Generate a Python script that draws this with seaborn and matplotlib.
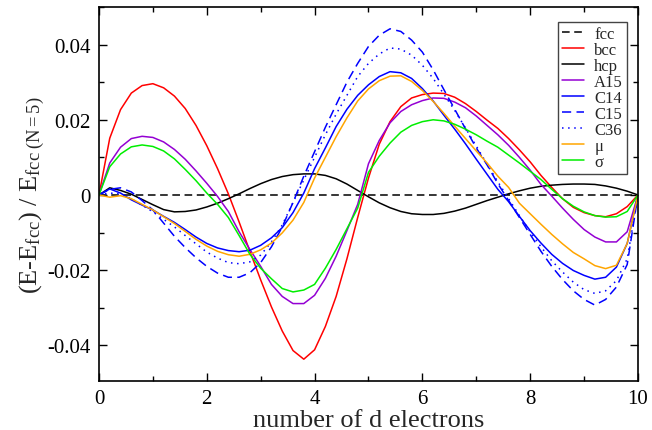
import numpy as np
import pandas as pd
import matplotlib
matplotlib.use("Agg")
import matplotlib.pyplot as plt
from matplotlib.ticker import MultipleLocator, FixedLocator, FixedFormatter
import seaborn as sns

# ---------------- data ----------------
x_d = [0.0, 0.2, 0.4, 0.6, 0.8, 1.0, 1.2, 1.4, 1.6, 1.8, 2.0, 2.2, 2.4, 2.6, 2.8,
       3.0, 3.2, 3.4, 3.6, 3.8, 4.0, 4.2, 4.4, 4.6, 4.8, 5.0, 5.2, 5.4, 5.6, 5.8,
       6.0, 6.2, 6.4, 6.6, 6.8, 7.0, 7.2, 7.4, 7.6, 7.8, 8.0, 8.2, 8.4, 8.6, 8.8,
       9.0, 9.2, 9.4, 9.6, 9.8, 10.0]

fcc_x = [0.0, 10.0]
fcc = [0.0, 0.0]

bcc = [0.0, 0.0151, 0.0227, 0.0271, 0.0291, 0.0296, 0.0285, 0.0263, 0.0230, 0.0185,
       0.0131, 0.0070, 0.0003, -0.0072, -0.0150, -0.0226, -0.0298, -0.0362, -0.0414, -0.0437,
       -0.0412, -0.0350, -0.0270, -0.0170, -0.0060, 0.0045, 0.0135, 0.0195, 0.0235, 0.0258,
       0.0267, 0.0271, 0.0270, 0.0260, 0.0243, 0.0222, 0.0199, 0.0177, 0.0150, 0.0120,
       0.0088, 0.0052, 0.0020, -0.0010, -0.0033, -0.0047, -0.0055, -0.0058, -0.0050, -0.0031, 0.0]

hcp = [0.0, 0.0019, 0.0012, 0.0002, -0.0012, -0.0026, -0.0039, -0.0045, -0.0044, -0.0040,
       -0.0032, -0.0022, -0.0010, 0.0003, 0.0017, 0.0030, 0.0041, 0.0049, 0.0054, 0.0056,
       0.0056, 0.0052, 0.0043, 0.0029, 0.0012, -0.0005, -0.0021, -0.0034, -0.0044, -0.0050,
       -0.0052, -0.0052, -0.0049, -0.0043, -0.0035, -0.0025, -0.0015, -0.0006, 0.0003, 0.0011,
       0.0018, 0.0023, 0.0026, 0.0028, 0.0029, 0.0029, 0.0028, 0.0024, 0.0018, 0.0010, 0.0]

a15 = [0.0, 0.0085, 0.0127, 0.0150, 0.0156, 0.0153, 0.0141, 0.0121, 0.0095, 0.0064,
       0.0031, -0.0004, -0.0044, -0.0098, -0.0145, -0.0190, -0.0238, -0.0270, -0.0289, -0.0289,
       -0.0267, -0.0222, -0.0163, -0.0095, -0.0025, 0.0083, 0.0145, 0.0192, 0.0222, 0.0240,
       0.0251, 0.0258, 0.0257, 0.0247, 0.0232, 0.0210, 0.0185, 0.0160, 0.0132, 0.0100,
       0.0066, 0.0028, -0.0003, -0.0035, -0.0065, -0.0092, -0.0112, -0.0125, -0.0125, -0.0098, 0.0]

c14 = [0.0, 0.0016, 0.0005, -0.0013, -0.0027, -0.0040, -0.0057, -0.0073, -0.0092, -0.0112,
       -0.0129, -0.0141, -0.0148, -0.0151, -0.0147, -0.0134, -0.0114, -0.0087, -0.0047, 0.0005,
       0.0070, 0.0125, 0.0182, 0.0228, 0.0265, 0.0293, 0.0315, 0.0328, 0.0325, 0.0310,
       0.0283, 0.0250, 0.0212, 0.0175, 0.0136, 0.0095, 0.0055, 0.0015, -0.0018, -0.0057,
       -0.0095, -0.0128, -0.0158, -0.0182, -0.0201, -0.0214, -0.0224, -0.0219, -0.0192, -0.0129, 0.0]

c15 = [0.0, 0.0015, 0.0019, 0.0008, -0.0015, -0.0040, -0.0075, -0.0110, -0.0140, -0.0167,
       -0.0190, -0.0208, -0.0219, -0.0219, -0.0207, -0.0180, -0.0138, -0.0085, -0.0020, 0.0050,
       0.0115, 0.0180, 0.0240, 0.0300, 0.0350, 0.0395, 0.0425, 0.0442, 0.0435, 0.0412,
       0.0380, 0.0333, 0.0280, 0.0228, 0.0176, 0.0125, 0.0080, 0.0030, -0.0015, -0.0060,
       -0.0105, -0.0150, -0.0190, -0.0225, -0.0255, -0.0278, -0.0293, -0.0278, -0.0245, -0.0185, 0.0]

c36 = [0.0, 0.0005, 0.0003, -0.0010, -0.0027, -0.0045, -0.0065, -0.0085, -0.0108, -0.0130,
       -0.0152, -0.0168, -0.0180, -0.0183, -0.0178, -0.0160, -0.0125, -0.0080, -0.0020, 0.0040,
       0.0100, 0.0160, 0.0215, 0.0265, 0.0315, 0.0350, 0.0375, 0.0391, 0.0388, 0.0372,
       0.0345, 0.0310, 0.0268, 0.0225, 0.0178, 0.0130, 0.0082, 0.0035, -0.0010, -0.0055,
       -0.0098, -0.0138, -0.0175, -0.0205, -0.0232, -0.0252, -0.0262, -0.0255, -0.0228, -0.0170, 0.0]

mu = [0.0, -0.0006, -0.0002, -0.0010, -0.0025, -0.0040, -0.0058, -0.0076, -0.0097, -0.0118,
      -0.0136, -0.0150, -0.0159, -0.0163, -0.0158, -0.0146, -0.0128, -0.0101, -0.0067, -0.0020,
      0.0045, 0.0100, 0.0155, 0.0205, 0.0250, 0.0282, 0.0304, 0.0316, 0.0317, 0.0302,
      0.0278, 0.0249, 0.0217, 0.0183, 0.0150, 0.0117, 0.0085, 0.0050, 0.0020, -0.0022,
      -0.0050, -0.0078, -0.0105, -0.0130, -0.0153, -0.0170, -0.0188, -0.0196, -0.0187, -0.0129, 0.0]

sigma = [0.0, 0.0075, 0.0109, 0.0128, 0.0133, 0.0129, 0.0117, 0.0096, 0.0068, 0.0038,
         0.0005, -0.0025, -0.0060, -0.0108, -0.0158, -0.0195, -0.0223, -0.0249, -0.0258, -0.0253,
         -0.0238, -0.0195, -0.0145, -0.0090, -0.0035, 0.0060, 0.0103, 0.0138, 0.0167, 0.0185,
         0.0195, 0.0200, 0.0197, 0.0188, 0.0175, 0.0160, 0.0143, 0.0127, 0.0106, 0.0085,
         0.0063, 0.0041, 0.0015, -0.0010, -0.0030, -0.0045, -0.0055, -0.0059, -0.0058, -0.0044, 0.0]

labels = ["fcc", "bcc", "hcp", "A15", "C14", "C15", "C36", "\u03bc", "\u03c3"]
colors = ["black", "#ff0000", "black", "#9400d3", "#0000ff", "#0000ff", "#0000ff", "#ffa500", "#00ee00"]
styles = [(0, (5, 3)), "-", "-", "-", "-", (0, (6, 3.5)), (0, (1, 3)), "-", "-"]

x_ticks = [0, 2, 4, 6, 8, 10]
y_ticks = [-0.04, -0.02, 0.0, 0.02, 0.04]
y_tick_labels = ["-0.04", "-0.02", "0", "0.02", "0.04"]

# ---------------- plot ----------------
sns.set_theme(style="ticks")
plt.rcParams["font.family"] = ["Liberation Serif", "DejaVu Serif"]
plt.rcParams["mathtext.fontset"] = "custom"
plt.rcParams["mathtext.rm"] = "Liberation Serif"
plt.rcParams["mathtext.it"] = "Liberation Serif:italic"
plt.rcParams["axes.unicode_minus"] = False

fig = plt.figure(figsize=(6.52, 4.31), dpi=100)
ax = fig.add_axes([0.1518, 0.1137, 0.8267, 0.8677])

series = [fcc, bcc, hcp, a15, c14, c15, c36, mu, sigma]
for lab, col, ls, ys in zip(labels, colors, styles, series):
    xs = fcc_x if lab == "fcc" else x_d
    sns.lineplot(x=xs, y=ys, ax=ax, color=col, linestyle=ls, linewidth=1.1,
                 label=lab, sort=False, estimator=None)

ax.set_xlim(0, 10)
ax.set_ylim(-0.0495, 0.05)
ax.xaxis.set_major_locator(FixedLocator(x_ticks))
ax.xaxis.set_minor_locator(MultipleLocator(1))
ax.yaxis.set_major_locator(FixedLocator(y_ticks))
ax.yaxis.set_major_formatter(FixedFormatter(y_tick_labels))
ax.yaxis.set_minor_locator(MultipleLocator(0.01))
ax.tick_params(which="both", direction="in", top=True, right=True, width=1.0,
               labelsize=15, colors="black")
ax.tick_params(axis="x", which="major", pad=5.5)
ax.tick_params(axis="y", which="major", pad=6.0)
ax.tick_params(which="major", length=6)
ax.tick_params(which="minor", length=3.5)
for s in ax.spines.values():
    s.set_linewidth(1.2)
    s.set_color("black")

ax.set_xlabel("number of d electrons", fontsize=19, labelpad=1)
ax.set_ylabel(r"(E-E$_{\rm fcc}$) / E$_{\rm fcc\ (N=5)}$", fontsize=19, labelpad=0)

leg = ax.legend(loc="upper right", bbox_to_anchor=(0.98, 0.96), fontsize=12,
                frameon=True, fancybox=False, edgecolor="#444444", framealpha=1,
                handlelength=1.35, handletextpad=0.6, labelspacing=0.0,
                borderpad=0.25, borderaxespad=0)
leg.get_frame().set_linewidth(1.0)

fig.savefig("out.png", dpi=100)
